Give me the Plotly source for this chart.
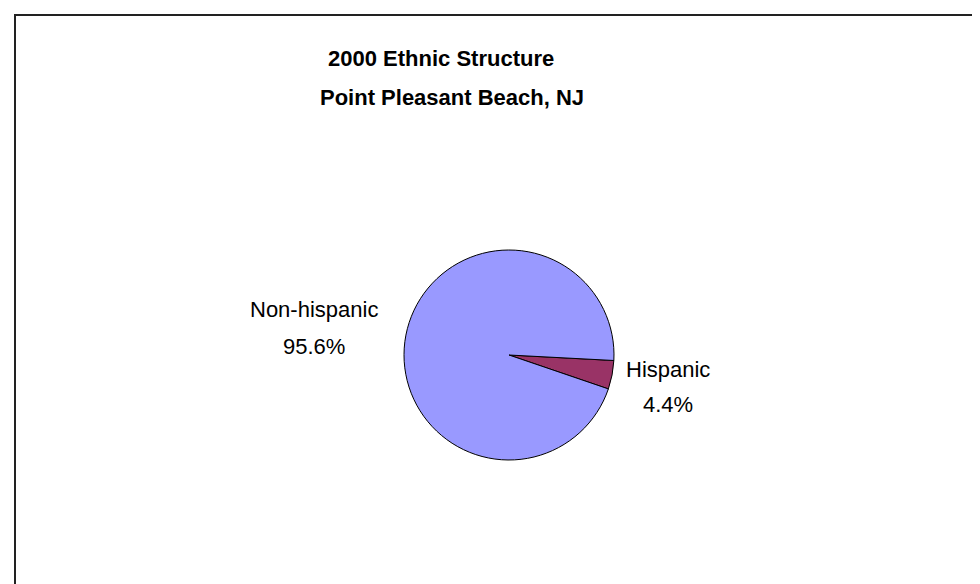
import plotly.graph_objects as go

# data
labels = ["Hispanic", "Non-hispanic"]
shares = [4.4, 95.6]
colors = ["#993366", "#9999FF"]
title_lines = ["2000 Ethnic Structure", "Point Pleasant Beach, NJ"]

W, H = 980, 584

def px(x):
    return x / W

def py_(y):
    return 1 - y / H

# pie centre and radius in pixels
cx, cy, r = 501, 347, 105

fig = go.Figure(go.Pie(
    labels=labels,
    values=shares,
    sort=False,
    direction="clockwise",
    rotation=93,
    marker=dict(colors=colors, line=dict(color="black", width=1)),
    textinfo="none",
    hoverinfo="label+percent",
    showlegend=False,
    domain=dict(x=[px(cx - r), px(cx + r)], y=[py_(cy + r), py_(cy - r)]),
))

font_t = dict(family="Arial, Liberation Sans", size=22, color="black")
font_l = dict(family="Arial, Liberation Sans", size=22, color="black")

annos = []
# title lines, left aligned like the original
annos.append(dict(text="<b>%s</b>" % title_lines[0], x=px(318), y=py_(51),
                  xanchor="left", font=font_t))
annos.append(dict(text="<b>%s</b>" % title_lines[1], x=px(310), y=py_(89),
                  xanchor="left", font=font_t))

# slice labels: name line and percent line
label_pos = {"Hispanic": (660, 361, 396), "Non-hispanic": (306, 301, 338)}
for lab, val in zip(labels, shares):
    x, y1, y2 = label_pos[lab]
    annos.append(dict(text=lab, x=px(x), y=py_(y1), xanchor="center", font=font_l))
    annos.append(dict(text="%.1f%%" % val, x=px(x), y=py_(y2), xanchor="center", font=font_l))

for a in annos:
    a.update(xref="paper", yref="paper", showarrow=False, yanchor="middle")

fig.update_layout(
    width=W, height=H,
    margin=dict(l=0, r=0, t=0, b=0),
    paper_bgcolor="white",
    plot_bgcolor="white",
    annotations=annos,
    shapes=[dict(type="rect", xref="paper", yref="paper",
                 x0=px(7), x1=1.05, y0=-0.05, y1=py_(7),
                 line=dict(color="#222222", width=2))],
)

fig.write_html("out.html")
